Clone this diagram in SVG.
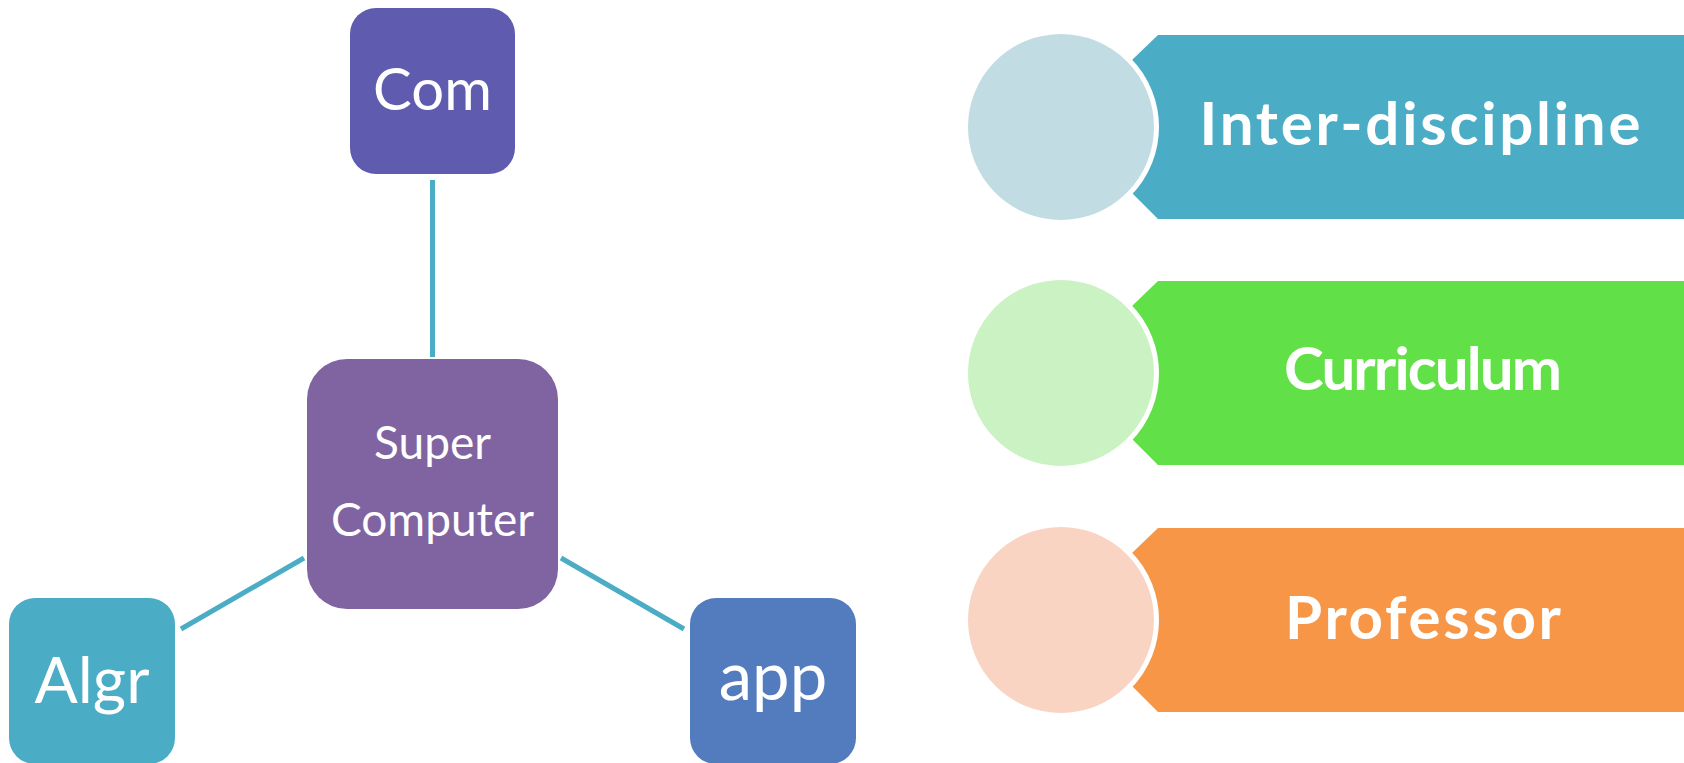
<svg xmlns="http://www.w3.org/2000/svg" width="1684" height="763" viewBox="0 0 1684 763">
<style>
.lbl{font-family:Lato,"Liberation Sans",sans-serif;fill:#fff;text-anchor:middle}
.bold{font-family:Lato,"Liberation Sans",sans-serif;font-weight:bold;fill:#fff;text-anchor:middle;font-size:60px}
.conn{stroke:#4BACC6;stroke-width:5;fill:none}
.circ{stroke:#fff;stroke-width:5}
</style>
<rect width="1684" height="763" fill="#fff"/>
<g id="connectors">
<line class="conn" x1="432.5" y1="180" x2="432.5" y2="357"/>
<line class="conn" x1="304" y1="558" x2="181" y2="629"/>
<line class="conn" x1="561" y1="558" x2="684" y2="629"/>
</g>
<g id="com">
<rect x="350" y="8" width="165" height="166" rx="26" fill="#5F5CAF"/>
<text class="lbl" x="432.5" y="110" font-size="58">Com</text>
</g>
<g id="super">
<rect x="307" y="359" width="251" height="250" rx="40" fill="#8064A2"/>
<text class="lbl" x="432.5" y="459" font-size="46">Super</text>
<text class="lbl" x="432.5" y="536" font-size="46">Computer</text>
</g>
<g id="algr">
<rect x="9" y="598" width="166" height="166" rx="26" fill="#4BACC6"/>
<text class="lbl" x="92" y="703" font-size="64">Algr</text>
</g>
<g id="app">
<rect x="690" y="598" width="166" height="166" rx="26" fill="#527CBD"/>
<text class="lbl" x="773" y="700" font-size="67">app</text>
</g>
<g id="inter">
<path d="M1158,35 L1684,35 L1684,219 L1158,219 L1132,193 L1132,60 Z" fill="#4BACC6"/>
<circle class="circ" cx="1061" cy="127" r="95.5" fill="#C2DCE4"/>
<text class="bold" x="1420" y="145" textLength="441" lengthAdjust="spacing">Inter-discipline</text>
</g>
<g id="curriculum">
<path d="M1158,281 L1684,281 L1684,465 L1158,465 L1132,439 L1132,306 Z" fill="#62E048"/>
<circle class="circ" cx="1061" cy="373" r="95.5" fill="#CAF2C2"/>
<text class="bold" x="1423" y="390" textLength="278" lengthAdjust="spacing">Curriculum</text>
</g>
<g id="professor">
<path d="M1158,528 L1684,528 L1684,712 L1158,712 L1132,686 L1132,553 Z" fill="#F79646"/>
<circle class="circ" cx="1061" cy="620" r="95.5" fill="#FAD4C3"/>
<text class="bold" x="1423" y="639" textLength="276" lengthAdjust="spacing">Professor</text>
</g>
</svg>
